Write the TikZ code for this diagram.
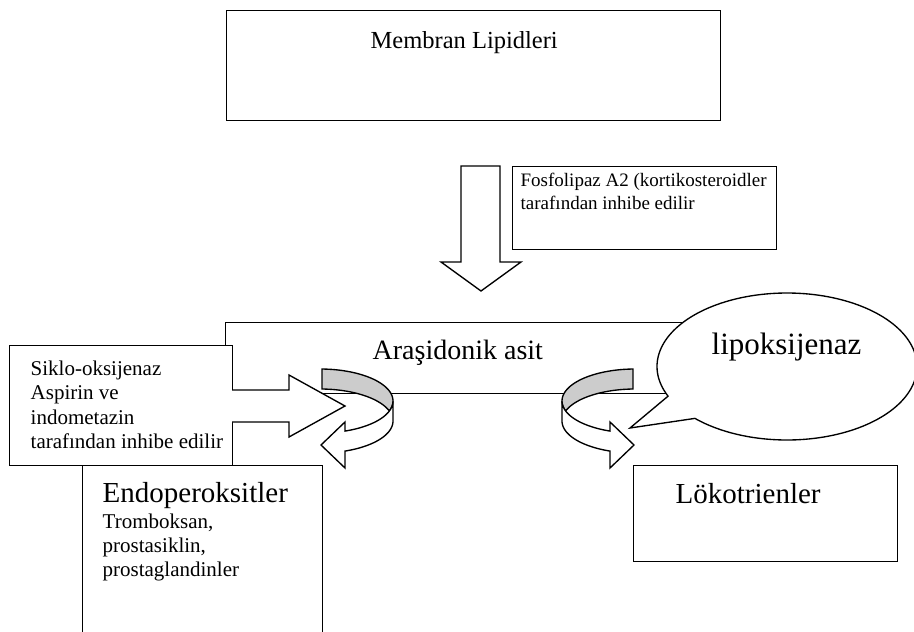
\documentclass[tikz,border=0pt]{standalone}
\usepackage{fontspec}
\setmainfont{Liberation Serif}
\begin{document}
\begin{tikzpicture}[x=1pt,y=-1pt,line width=1.35pt,line join=miter,
  box/.style={draw=black,fill=white,inner sep=0pt,anchor=north west},
  txt/.style={anchor=base west,inner sep=0pt,text=black},
  big/.style={font=\fontsize{29}{33}\selectfont},
  mid/.style={font=\fontsize{21}{24}\selectfont},
  sml/.style={font=\fontsize{19}{22}\selectfont},
  band/.style={draw=black,fill=gray!40},
  wband/.style={draw=black,fill=white}]
\useasboundingbox (0,0) rectangle (914,632);

% Membran Lipidleri
\node[box,minimum width=494pt,minimum height=110pt] (memb) at (226,10) {};
\node[txt,font=\fontsize{24.5}{28}\selectfont] (membt) at (370,48) {Membran Lipidleri};

% Fosfolipaz box
\node[box,minimum width=264pt,minimum height=83pt] (fosf) at (512,166) {};
\node[txt,sml] (fosf1) at (520,186) {Fosfolipaz A2 (kortikosteroidler};
\node[txt,sml] (fosf2) at (520,209) {tarafından inhibe edilir};

% down block arrow
\draw[wband] (461,166) -- (500,166) -- (500,262) -- (521,262) -- (481,291)
  -- (441,262) -- (461,262) -- cycle;

% Arasidonik asit box
\node[box,minimum width=495pt,minimum height=71pt] (aras) at (225,322) {};
\node[txt,font=\fontsize{28}{32}\selectfont] (arast) at (372,359) {Araşidonik asit};

% Siklo-oksijenaz box
\node[box,minimum width=223pt,minimum height=120pt] (siklo) at (9,345) {};
\node[txt,mid] (s1) at (30,375) {Siklo-oksijenaz};
\node[txt,mid] (s2) at (30,399) {Aspirin ve};
\node[txt,mid] (s3) at (30,424) {indometazin};
\node[txt,mid] (s4) at (30,448) {tarafından inhibe edilir};

% right block arrow out of Siklo box
\fill[white] (231,390) -- (289,390) -- (289,375) -- (345,406) -- (289,437)
  -- (289,422) -- (231,422) -- cycle;
\draw (232,390) -- (289,390) -- (289,375) -- (345,406) -- (289,437)
  -- (289,422) -- (232,422);

% Endoperoksitler box
\node[box,minimum width=240pt,minimum height=190pt] (endo) at (82,465) {};
\node[txt,big] (endot) at (102,502) {Endoperoksitler};
\node[txt,mid] (e1) at (102,528) {Tromboksan,};
\node[txt,mid] (e2) at (102,552) {prostasiklin,};
\node[txt,mid] (e3) at (102,576) {prostaglandinler};

% curved arrows
\newcommand{\curvedribbon}{%
  \draw[band] plot[domain=-88.4:18.2,samples=60] ({320+73*cos(\x)},{401+32*sin(\x)})
    -- plot[domain=-18.2:-88.4,samples=60] ({320+73*cos(\x)},{421+32*sin(\x)}) -- cycle;
  \draw[wband] plot[domain=0:70,samples=50] ({320+73*cos(\x)},{401+32*sin(\x)})
    -- (345,422) -- (321,445) -- (345,468)
    -- plot[domain=70:0,samples=50] ({320+73*cos(\x)},{421+32*sin(\x)}) -- cycle;}
\curvedribbon
\begin{scope}[shift={(955,0)},xscale=-1]
\curvedribbon
\end{scope}

% lipoksijenaz callout
\draw[wband] plot[domain=156.2:495.1,samples=160] ({787+130*cos(\x)},{366.5+73.5*sin(\x)})
  -- (630,428) -- cycle;
\node[txt,font=\fontsize{31}{35}\selectfont] (lipo) at (711,354) {lipoksijenaz};

% Lokotrienler box
\node[box,minimum width=264pt,minimum height=96pt] (lok) at (633,465) {};
\node[txt,big] (lokt) at (675,503) {Lökotrienler};
\end{tikzpicture}
\end{document}
